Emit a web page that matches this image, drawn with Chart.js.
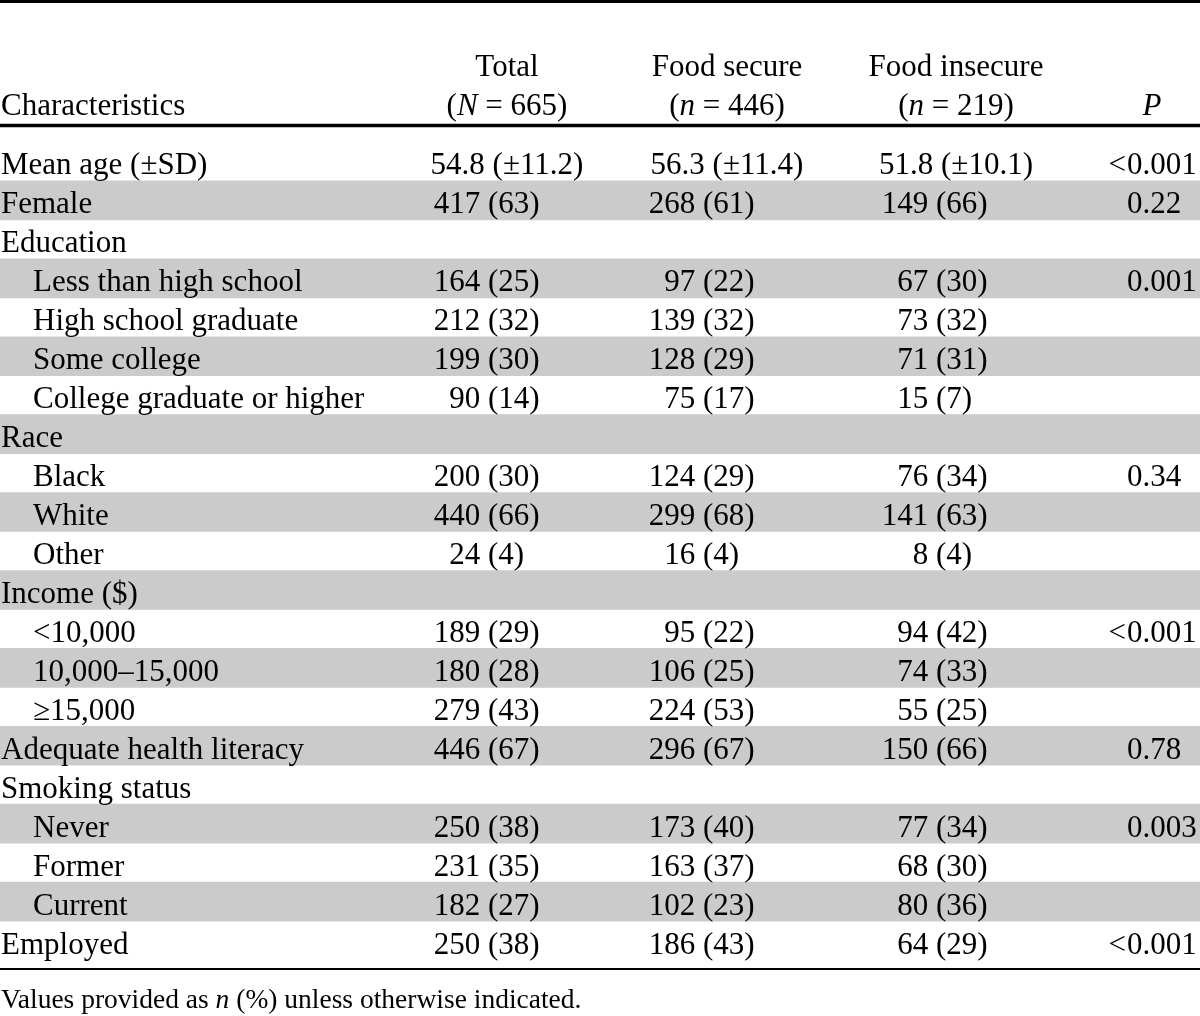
<!DOCTYPE html>
<html>
<head>
<meta charset="utf-8">
<script src="https://cdn.jsdelivr.net/npm/chart.js@4"></script>
<style>
  html, body { margin: 0; padding: 0; background: #fff; }
  canvas { display: block; }
</style>
</head>
<body>
<canvas id="chart" width="1200" height="1016"></canvas>
<script>
// table content
const rowLabels = [
  "Mean age (±SD)", "Female", "Education",
  "Less than high school", "High school graduate", "Some college", "College graduate or higher",
  "Race", "Black", "White", "Other",
  "Income ($)", "<10,000", "10,000–15,000", "≥15,000",
  "Adequate health literacy", "Smoking status", "Never", "Former", "Current", "Employed",
];
const rowLevel = [0, 0, 0, 1, 1, 1, 1, 0, 1, 1, 1, 0, 1, 1, 1, 0, 0, 1, 1, 1, 0];
const totalVals = [
  "54.8 (±11.2)", "417 (63)", "", "164 (25)", "212 (32)", "199 (30)", "90 (14)",
  "", "200 (30)", "440 (66)", "24 (4)", "", "189 (29)", "180 (28)", "279 (43)",
  "446 (67)", "", "250 (38)", "231 (35)", "182 (27)", "250 (38)",
];
const secureVals = [
  "56.3 (±11.4)", "268 (61)", "", "97 (22)", "139 (32)", "128 (29)", "75 (17)",
  "", "124 (29)", "299 (68)", "16 (4)", "", "95 (22)", "106 (25)", "224 (53)",
  "296 (67)", "", "173 (40)", "163 (37)", "102 (23)", "186 (43)",
];
const insecureVals = [
  "51.8 (±10.1)", "149 (66)", "", "67 (30)", "73 (32)", "71 (31)", "15 (7)",
  "", "76 (34)", "141 (63)", "8 (4)", "", "94 (42)", "74 (33)", "55 (25)",
  "150 (66)", "", "77 (34)", "68 (30)", "80 (36)", "64 (29)",
];
const pVals = [
  "<0.001", "0.22", "", "0.001", "", "", "",
  "", "0.34", "", "", "", "<0.001", "", "",
  "0.78", "", "0.003", "", "", "<0.001",
];
const headerTop = ["", "Total", "Food secure", "Food insecure", ""];
const headerSub = ["Characteristics", "(*N* = 665)", "(*n* = 446)", "(*n* = 219)", "*P*"];
const footnote = "Values provided as *n* (%) unless otherwise indicated.";

const FONT = "'Liberation Serif', 'Times New Roman', serif";
const SIZE = 31;
const colCenter = [0, 507, 727, 956, 1152];
const parenX = [0, 488, 703, 936];
const pX = 1127;

function font(size, italic) {
  return (italic ? "italic " : "") + size + "px " + FONT;
}

// draws "*x*" marked text with italic runs
function drawRuns(ctx, str, x, y, size, align) {
  const runs = str.split("*").map((t, i) => ({ t, it: i % 2 === 1 })).filter(r => r.t);
  let w = 0;
  runs.forEach(r => { ctx.font = font(size, r.it); r.w = ctx.measureText(r.t).width; w += r.w; });
  let cx = align === "center" ? x - w / 2 : align === "right" ? x - w : x;
  ctx.textAlign = "left";
  runs.forEach(r => { ctx.font = font(size, r.it); ctx.fillText(r.t, cx, y); cx += r.w; });
}

function drawValue(ctx, val, col, y) {
  if (!val) return;
  if (val.includes("±")) {
    ctx.textAlign = "center";
    ctx.fillText(val, colCenter[col], y);
    return;
  }
  const k = val.indexOf("(");
  ctx.textAlign = "right";
  ctx.fillText(val.slice(0, k), parenX[col], y);
  ctx.textAlign = "left";
  ctx.fillText(val.slice(k), parenX[col], y);
}

function hline(ctx, y, w) {
  ctx.beginPath();
  ctx.lineWidth = w;
  ctx.strokeStyle = "#000";
  ctx.moveTo(0, y);
  ctx.lineTo(1200, y);
  ctx.stroke();
}

const tablePlugin = {
  id: "tableText",
  afterDraw(chart) {
    const ctx = chart.ctx;
    const y = chart.scales.y;
    ctx.save();
    ctx.fillStyle = "#000";
    ctx.textBaseline = "alphabetic";

    hline(ctx, 1.5, 3);
    headerTop.forEach((t, i) => { if (t) drawRuns(ctx, t, colCenter[i], 76, SIZE, "center"); });
    headerSub.forEach((t, i) => {
      if (i === 0) drawRuns(ctx, t, 1, 115, SIZE, "left");
      else drawRuns(ctx, t, colCenter[i], 115, SIZE, "center");
    });
    hline(ctx, 125.5, 3.5);

    ctx.font = font(SIZE, false);
    rowLabels.forEach((label, i) => {
      const by = y.getPixelForValue(i) + 13;
      ctx.textAlign = "left";
      ctx.fillText(label, rowLevel[i] ? 33 : 1, by);
      drawValue(ctx, totalVals[i], 1, by);
      drawValue(ctx, secureVals[i], 2, by);
      drawValue(ctx, insecureVals[i], 3, by);
      const p = pVals[i];
      if (p) {
        const lead = p.startsWith("<") ? "<" : "";
        ctx.textAlign = "right";
        if (lead) ctx.fillText(lead, pX - 1, by);
        ctx.textAlign = "left";
        ctx.fillText(p.slice(lead.length), pX, by);
      }
    });

    hline(ctx, 969, 2);
    drawRuns(ctx, footnote, 1, 1008, 27.5, "left");
    ctx.restore();
  },
};

new Chart(document.getElementById("chart"), {
  type: "bar",
  data: {
    labels: rowLabels,
    datasets: [{
      // alternate rows carry the grey band
      data: rowLabels.map((_, i) => (i % 2 === 1 ? 1200 : null)),
      backgroundColor: "#cbcbcb",
      borderWidth: 0,
      barPercentage: 1,
      categoryPercentage: 1,
    }],
  },
  options: {
    indexAxis: "y",
    responsive: false,
    animation: false,
    layout: { padding: { top: 142, bottom: 56, left: 0, right: 0 } },
    plugins: { legend: { display: false }, tooltip: { enabled: false } },
    scales: {
      x: { display: false, min: 0, max: 1200 },
      y: { display: false, offset: true },
    },
  },
  plugins: [tablePlugin],
});
</script>
</body>
</html>
